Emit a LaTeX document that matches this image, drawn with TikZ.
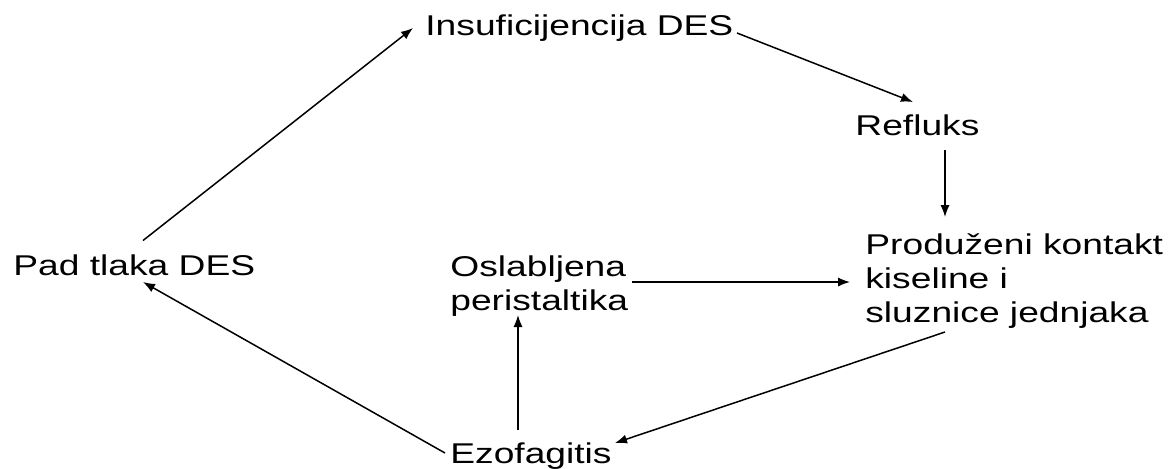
\documentclass[tikz,border=0pt]{standalone}
\usepackage{fontspec}
\setmainfont{Liberation Sans}[FakeStretch=1.3]
\usetikzlibrary{calc}
\usetikzlibrary{arrows.meta}
\tikzset{lbl/.style={anchor=base west, inner sep=0pt, align=left, font=\fontsize{14.3}{17}\selectfont}}
\tikzset{arr/.style={black, line width=0.75pt, -{Latex[length=6pt,width=4.6pt]}}}

\begin{document}
\begin{tikzpicture} [x=0.5pt, y=-0.5pt]
\useasboundingbox (0,0) rectangle (1169,468);
\node[lbl] (pad) at (13,275) {Pad tlaka DES};
\node[lbl] (insuf) at (425,35) {Insuficijencija DES};
\node[lbl] (refluks) at (855,135) {Refluks};
% base of a two- or three-line node is its last line
\node[lbl] (prod) at (865,322) {Produženi kontakt\\kiseline i\\sluznice jednjaka};
\node[lbl] (osl) at (450,310) {Oslabljena\\peristaltika};
\node[lbl] (ezo) at (450,463) {Ezofagitis};
\draw[arr] ($(pad.base west)+(130,-34.5)$) -- ($(insuf.base west)+(-12,-7)$);
\draw[arr] ($(insuf.base west)+(312,-2)$) -- ($(refluks.base west)+(58,-33)$);
\draw[arr] ($(refluks.base west)+(90,15)$) -- ($(prod.base west)+(80,-105)$);
\draw[arr] ($(osl.base west)+(182,-28)$) -- ($(prod.base west)+(-15,-40)$);
\draw[arr] ($(prod.base west)+(80,10)$) -- ($(ezo.base west)+(165,-20)$);
\draw[arr] ($(ezo.base west)+(68,-33)$) -- ($(osl.base west)+(68,5)$);
\draw[arr] ($(ezo.base west)+(-5,-10)$) -- ($(pad.base west)+(130,7)$);
\end{tikzpicture}
\end{document}
